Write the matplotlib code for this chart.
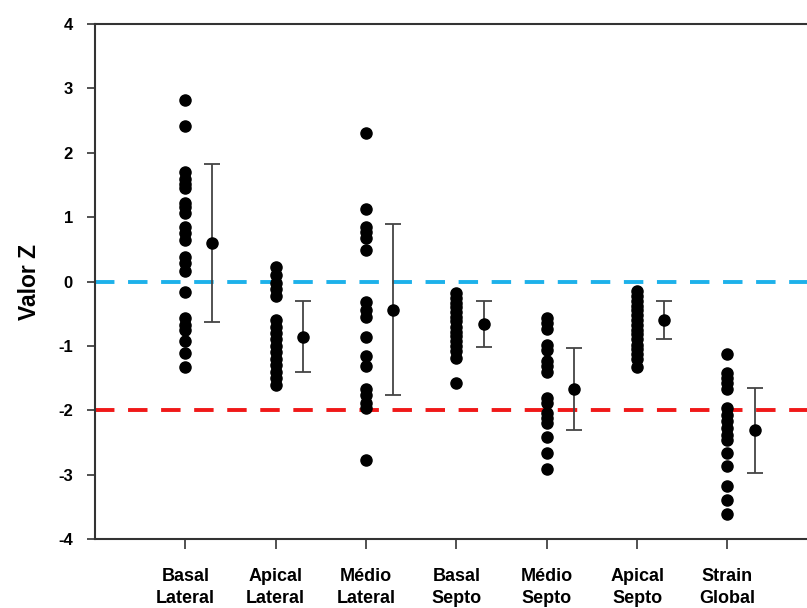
import matplotlib
matplotlib.use("Agg")
import matplotlib.pyplot as plt

plt.rcParams['font.family'] = ['Liberation Sans', 'DejaVu Sans']
plt.rcParams['axes.unicode_minus'] = False

# group labels
categories = ['Basal\nLateral', 'Apical\nLateral', 'Médio\nLateral', 'Basal\nSepto',
              'Médio\nSepto', 'Apical\nSepto', 'Strain\nGlobal']

# individual Z values per segment
basal_lateral = [2.82, 2.42, 1.70, 1.60, 1.52, 1.45, 1.22, 1.15, 1.07, 0.85, 0.75,
                 0.64, 0.38, 0.28, 0.17, -0.16, -0.57, -0.67, -0.76, -0.93, -1.11, -1.33]
apical_lateral = [0.22, 0.10, -0.02, -0.12, -0.22, -0.60, -0.70, -0.80, -0.90,
                  -1.00, -1.10, -1.20, -1.30, -1.40, -1.50, -1.60]
medio_lateral = [2.30, 1.12, 0.85, 0.77, 0.68, 0.49, -0.32, -0.44, -0.55, -0.86,
                 -1.15, -1.31, -1.67, -1.77, -1.88, -1.96, -2.77]
basal_septo = [-0.18, -0.25, -0.33, -0.40, -0.48, -0.55, -0.62, -0.70, -0.78,
               -0.85, -0.92, -1.00, -1.08, -1.19, -1.58]
medio_septo = [-0.57, -0.65, -0.74, -0.98, -1.06, -1.24, -1.32, -1.40, -1.81,
               -1.89, -2.04, -2.12, -2.20, -2.42, -2.66, -2.92]
apical_septo = [-0.15, -0.22, -0.30, -0.38, -0.45, -0.52, -0.60, -0.68, -0.75,
                -0.82, -0.90, -0.98, -1.05, -1.12, -1.20, -1.33]
strain_global = [-1.12, -1.42, -1.50, -1.58, -1.67, -1.97, -2.07, -2.17, -2.28,
                 -2.38, -2.46, -2.66, -2.86, -3.18, -3.39, -3.61]

# mean and SD shown beside each column
means = [0.60, -0.86, -0.44, -0.66, -1.67, -0.60, -2.31]
sds = [1.23, 0.55, 1.33, 0.36, 0.64, 0.30, 0.66]

groups = [basal_lateral, apical_lateral, medio_lateral, basal_septo,
          medio_septo, apical_septo, strain_global]

fig = plt.figure(figsize=(8.07, 6.08), dpi=100)
ax = fig.add_axes([95 / 807, 1 - 539 / 608, 1 - 95 / 807, (539 - 24) / 608])

# reference lines
ax.axhline(0, color='#1DB1EA', lw=2.8, ls=(0, (5, 3.5)), zorder=1)
ax.axhline(-2, color='#F01818', lw=2.8, ls=(0, (5, 3.5)), zorder=1)

for i, vals in enumerate(groups):
    x = i + 1
    ax.plot([x] * len(vals), vals, 'o', color='black', ms=8, zorder=3)
    ax.errorbar(x + 0.3, means[i], yerr=sds[i], fmt='o', color='black', ms=8,
                ecolor='#444444', elinewidth=1.3, capsize=6, capthick=1.3, zorder=3)

ax.set_xlim(0, 7.88)
ax.set_ylim(-4, 4)
ax.set_yticks(range(-4, 5))
ax.set_xticks(range(1, 8))
ax.set_xticklabels(categories, fontsize=13, fontweight='bold', linespacing=1.35)
for lbl in ax.get_yticklabels():
    lbl.set_fontsize(12)
    lbl.set_fontweight('bold')
ax.set_ylabel('Valor Z', fontsize=16.5, fontweight='bold', labelpad=12)

ax.tick_params(axis='y', direction='out', length=6, width=1.2, color='#333333', pad=10)
ax.tick_params(axis='x', direction='out', length=7, width=1.2, color='#333333', pad=14)
for side in ['left', 'bottom', 'top']:
    ax.spines[side].set_linewidth(1.5)
    ax.spines[side].set_color('#333333')
ax.spines['right'].set_visible(False)

fig.savefig('out.png', dpi=100)
